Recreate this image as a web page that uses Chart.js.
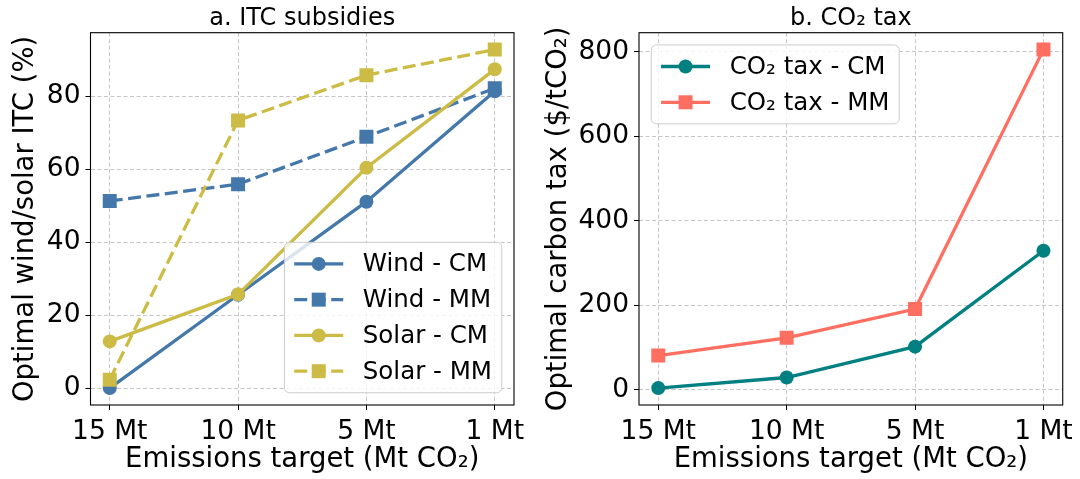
<!DOCTYPE html>
<html>
<head>
<meta charset="utf-8">
<script src="https://cdn.jsdelivr.net/npm/chart.js@4.4.1/dist/chart.umd.min.js"></script>
<style>
  html, body { margin: 0; padding: 0; background: #fff; }
  #wrap { position: relative; width: 1080px; height: 479px; }
  .panel { position: absolute; top: 0; width: 540px; height: 479px; }
</style>
</head>
<body>
<div id="wrap">
  <div class="panel" style="left:0"><canvas id="itc" width="540" height="479"></canvas></div>
  <div class="panel" style="left:540px"><canvas id="tax" width="540" height="479"></canvas></div>
</div>
<script>
// Emission targets on the shared x axis
const targets = ['15 Mt', '10 Mt', '5 Mt', '1 Mt'];

// Panel a: optimal ITC (%)
const windCM  = [0, 25.6, 51.1, 81.4];
const windMM  = [51.3, 55.9, 68.9, 82.2];
const solarCM = [12.8, 25.7, 60.4, 87.4];
const solarMM = [2.3, 73.4, 85.8, 92.8];
const itcTicks = [0, 20, 40, 60, 80];

// Panel b: optimal carbon tax ($/tCO2)
const taxCM = [4, 29, 102, 329];
const taxMM = [81, 123, 191, 805];
const taxTicks = [0, 200, 400, 600, 800];

const FONT = '"DejaVu Sans", "Liberation Sans", sans-serif';
const TICK_FS = 26.5;   // tick labels
const LABEL_FS = 27.5;  // axis titles
const HEAD_FS = 24;     // panel headings
const LEG_FS = 24.5;    // legend entries
Chart.defaults.font.family = FONT;
Chart.defaults.color = '#000';

const GRID = '#b8b8b8';
const DASH = [13, 5.5];

function series(label, values, color, dashed, marker, order) {
  return {
    label,
    data: values.map((v, i) => ({ x: i, y: v })),
    borderColor: color,
    backgroundColor: color,
    pointBackgroundColor: color,
    pointBorderColor: color,
    borderWidth: 3.3,
    borderDash: dashed ? DASH : [],
    pointStyle: marker,
    pointRadius: marker === 'rect' ? 9.9 : 7,
    pointBorderWidth: 0,
    tension: 0,
    order
  };
}

function scales(yTicks, allValues, yWidth, xTitle, yTitle, yTitlePad) {
  const flat = allValues.flat();
  const lo = Math.min(...flat), hi = Math.max(...flat);
  const m = (hi - lo) * 0.05;
  const xm = (targets.length - 1) * 0.05;
  const grid = { color: GRID, lineWidth: 0.8, tickLength: 5, tickColor: '#000', tickWidth: 1 };
  return {
    x: {
      type: 'linear',
      min: -xm,
      max: targets.length - 1 + xm,
      afterBuildTicks: s => { s.ticks = targets.map((_, i) => ({ value: i })); },
      afterFit: s => { s.height = 74; },
      ticks: { callback: v => targets[v], padding: 6.5, maxRotation: 0, autoSkip: false, font: { size: TICK_FS } },
      grid,
      border: { display: false, dash: [4, 2.5] },
      title: { display: true, text: xTitle, font: { size: LABEL_FS }, padding: { top: 0, bottom: 2.5 } }
    },
    y: {
      type: 'linear',
      min: lo - m,
      max: hi + m,
      afterBuildTicks: s => { s.ticks = yTicks.map(v => ({ value: v })); },
      afterFit: s => { s.width = yWidth; },
      ticks: { padding: 5, font: { size: TICK_FS } },
      grid,
      border: { display: false, dash: [4, 2.5] },
      title: { display: true, text: yTitle, font: { size: LABEL_FS }, padding: { top: yTitlePad, bottom: 0 } }
    }
  };
}

// Panel heading centred over the plotting area, plus the black frame
const frame = {
  id: 'frame',
  afterDatasetsDraw(chart, args, opts) {
    const { ctx, chartArea: a } = chart;
    ctx.save();
    ctx.strokeStyle = '#000';
    ctx.lineWidth = 1.1;
    ctx.strokeRect(a.left, a.top, a.right - a.left, a.bottom - a.top);
    ctx.fillStyle = '#000';
    ctx.font = `${HEAD_FS}px ${FONT}`;
    ctx.textAlign = 'center';
    ctx.textBaseline = 'middle';
    ctx.fillText(opts.text, (a.left + a.right) / 2, 19);
    ctx.restore();
  }
};

// Framed legend placed inside the plotting area
const boxLegend = {
  id: 'boxLegend',
  afterDatasetsDraw(chart, args, opts) {
    const { ctx, chartArea: a } = chart;
    const fs = LEG_FS;
    const pad = 0.5 * fs, inner = 0.4 * fs, handle = 2 * fs, gap = 0.8 * fs, rowH = 0.96 * fs, spacing = 0.5 * fs;
    const sets = chart.data.datasets;
    ctx.save();
    ctx.font = `${fs}px ${FONT}`;
    const tw = Math.max(...sets.map(d => ctx.measureText(d.label).width));
    const w = inner * 2 + handle + gap + tw;
    const h = inner * 2 + sets.length * rowH + (sets.length - 1) * spacing;
    const lower = opts.corner === 'lower right';
    const x = lower ? a.right - pad - w : a.left + pad;
    const y = lower ? a.bottom - pad - h : a.top + pad;
    ctx.beginPath();
    ctx.roundRect(x, y, w, h, 5);
    ctx.fillStyle = 'rgba(255,255,255,0.8)';
    ctx.fill();
    ctx.strokeStyle = '#cccccc';
    ctx.lineWidth = 1;
    ctx.stroke();
    sets.forEach((d, i) => {
      const cy = y + inner + rowH / 2 + i * (rowH + spacing);
      const hx = x + inner;
      ctx.strokeStyle = d.borderColor;
      ctx.lineWidth = d.borderWidth;
      ctx.setLineDash(d.borderDash);
      ctx.beginPath();
      ctx.moveTo(hx, cy);
      ctx.lineTo(hx + handle, cy);
      ctx.stroke();
      ctx.setLineDash([]);
      ctx.fillStyle = d.pointBackgroundColor;
      const cx = hx + handle / 2;
      ctx.beginPath();
      if (d.pointStyle === 'rect') {
        const s = d.pointRadius * Math.SQRT1_2;
        ctx.rect(cx - s, cy - s, 2 * s, 2 * s);
      } else {
        ctx.arc(cx, cy, d.pointRadius, 0, Math.PI * 2);
      }
      ctx.fill();
      ctx.fillStyle = '#000';
      ctx.textAlign = 'left';
      ctx.textBaseline = 'middle';
      ctx.fillText(d.label, hx + handle + gap, cy + 1);
    });
    ctx.restore();
  }
};

const common = {
  responsive: false,
  animation: false,
  devicePixelRatio: 1,
  plugins: { legend: { display: false }, tooltip: { enabled: false } }
};

new Chart(document.getElementById('itc'), {
  type: 'line',
  data: {
    datasets: [
      series('Wind - CM', windCM, '#4477AA', false, 'circle', 4),
      series('Wind - MM', windMM, '#4477AA', true, 'rect', 3),
      series('Solar - CM', solarCM, '#CCBB44', false, 'circle', 2),
      series('Solar - MM', solarMM, '#CCBB44', true, 'rect', 1)
    ]
  },
  options: {
    ...common,
    layout: { padding: { top: 32.7, right: 26, bottom: 0, left: 0 } },
    scales: scales(itcTicks, [windCM, windMM, solarCM, solarMM], 90.5,
      'Emissions target (Mt CO₂)', 'Optimal wind/solar ITC (%)', 9.5),
    plugins: {
      ...common.plugins,
      frame: { text: 'a. ITC subsidies' },
      boxLegend: { corner: 'lower right' }
    }
  },
  plugins: [frame, boxLegend]
});

new Chart(document.getElementById('tax'), {
  type: 'line',
  data: {
    datasets: [
      series('CO₂ tax - CM', taxCM, '#008080', false, 'circle', 2),
      series('CO₂ tax - MM', taxMM, '#FF6F61', false, 'rect', 1)
    ]
  },
  options: {
    ...common,
    layout: { padding: { top: 32.7, right: 17, bottom: 0, left: 0 } },
    scales: scales(taxTicks, [taxCM, taxMM], 99,
      'Emissions target (Mt CO₂)', 'Optimal carbon tax ($/tCO₂)', 2.5),
    plugins: {
      ...common.plugins,
      frame: { text: 'b. CO₂ tax' },
      boxLegend: { corner: 'upper left' }
    }
  },
  plugins: [frame, boxLegend]
});
</script>
</body>
</html>
